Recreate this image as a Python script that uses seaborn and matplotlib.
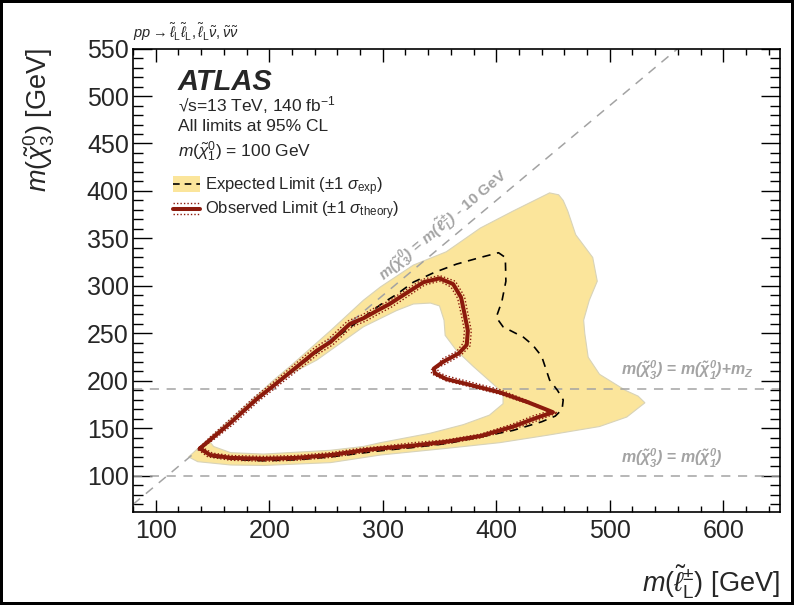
import numpy as np
import matplotlib
matplotlib.use("Agg")
import matplotlib.pyplot as plt
import seaborn as sns
from matplotlib.path import Path
from matplotlib.patches import PathPatch, Rectangle
from matplotlib.lines import Line2D
from matplotlib.legend_handler import HandlerBase
from matplotlib.ticker import MultipleLocator

# ---------------- data ----------------
# Expected +-1 sigma band: outer boundary and inner (hole) boundary
band_out_x = [129, 137, 166, 195, 254, 298, 356, 403, 446, 491, 515, 531, 525, 514, 491, 481, 478, 477,
              482, 489, 485, 470, 463, 459, 455, 447, 415, 386, 356, 327, 298, 283, 254, 219, 204, 170, 140, 129]
band_out_y = [120, 115, 111.5, 111, 114, 122, 129, 135, 143, 152, 162, 177, 184, 190, 207, 225, 250, 264,
              285, 305, 330, 354, 379, 390, 396, 398, 379, 361, 336, 322, 299, 285, 253, 216, 201, 164, 132, 120]
band_in_x = [147, 180, 215, 242, 283, 312, 327, 342, 350, 354, 355, 365, 380, 397, 406, 406, 394, 371,
             342, 298, 283, 254, 195, 166, 151, 147]
band_in_y = [137, 170, 205, 222, 257, 274, 281, 282, 279, 264, 248, 232, 215, 197, 187, 176, 164, 154,
             145, 135, 131, 127, 123, 124.5, 131, 137]

# Expected limit (dashed)
exp_x = [139, 166, 207, 254, 283, 300, 312, 327, 345, 365, 386, 402, 408, 408.5, 405, 400, 406, 424,
         432, 440, 447, 454, 459, 458, 452, 440, 415, 386, 356, 327, 298, 254, 224, 195, 172, 151, 139]
exp_y = [128, 156, 198, 241, 267, 282, 291, 304, 314, 323, 330, 335, 330, 305, 284, 267, 257, 246,
         238, 226, 201, 190, 180, 170, 163, 157, 148, 141, 134, 130, 126.5, 120, 117, 116, 117, 120, 128]

# Observed limit (thick)
obs_x = [139, 150, 166, 189, 207, 242, 254, 271, 283, 295, 306, 315, 336, 350, 362, 369, 372, 375, 374,
         367, 353, 345, 346, 356, 380, 403, 427, 446, 450, 435, 415, 386, 356, 327, 298, 283, 254, 224,
         195, 166, 148, 139]
obs_y = [129, 140, 156, 181, 198, 232, 241, 260, 266, 274, 281, 288, 304, 308, 302, 288, 271, 253, 238,
         229, 220, 213, 208, 202, 195, 188, 178, 169, 167, 161, 152, 142, 136, 132, 129, 127, 122, 119,
         118, 119, 122, 129]

# Observed +-1 sigma theory (dotted)
obs_up_x = [137, 148, 164, 187, 205, 240, 252, 269, 281, 293, 305, 314, 335, 350, 364, 372, 375, 378, 377,
            369, 354, 343, 343, 356, 380, 403, 428, 448, 454, 437, 416, 386, 356, 327, 298, 283, 254, 224,
            195, 166, 146, 137]
obs_up_y = [128, 141, 158, 183, 200, 235, 244, 263, 269, 277, 284, 291, 307, 311, 305, 289, 271, 253, 237,
            227, 217, 212, 207.5, 200, 193, 186, 176, 168, 166.5, 158.5, 149.5, 140, 134, 130, 127, 124.5,
            119.5, 116.5, 115.5, 116.5, 120, 128]
obs_dn_x = [141, 152, 168, 191, 209, 244, 256, 273, 285, 297, 308, 317, 337, 350, 360, 366, 369, 372, 371,
            365, 352, 348, 349, 357, 380, 403, 426, 444, 446, 433, 414, 386, 356, 327, 298, 283, 254, 224,
            195, 166, 150, 141]
obs_dn_y = [130, 139, 154, 179, 196, 229, 238, 257, 263, 271, 278, 285, 301, 305, 299, 287, 271, 253, 240,
            231, 223, 215, 209, 205, 198, 191, 180, 170.5, 168, 163.5, 154.5, 144, 138, 135, 131, 129.5,
            124.5, 121.5, 120.5, 121.5, 124, 130]

# reference lines
mZ_line = 191.2
m1_line = 100
diag_offset = 10
x_ticks = [100, 200, 300, 400, 500, 600]
y_ticks = [100, 150, 200, 250, 300, 350, 400, 450, 500, 550]

# ---------------- style ----------------
sns.set_theme(style="ticks")
plt.rcParams["font.family"] = ["Liberation Sans", "DejaVu Sans"]
plt.rcParams["mathtext.fontset"] = "custom"
plt.rcParams["mathtext.rm"] = "Liberation Sans"
plt.rcParams["mathtext.it"] = "Liberation Sans:italic"
plt.rcParams["mathtext.bf"] = "Liberation Sans:italic:bold"

BAND = "#fbe59b"
OBS = "#8c1a0c"
GREY = "#a3a3a3"

fig = plt.figure(figsize=(7.94, 6.05), dpi=100)
fig.patch.set_facecolor("white")
fig.patch.set_edgecolor("black")
fig.patch.set_linewidth(3)
ax = fig.add_axes([0.1675, 0.1537, 0.8149, 0.7661])
ax.set_facecolor("white")

# band with hole
def signed_area(xs, ys):
    xs = np.asarray(xs, float); ys = np.asarray(ys, float)
    return 0.5 * np.sum(xs * np.roll(ys, -1) - np.roll(xs, -1) * ys)

outer = np.column_stack([band_out_x, band_out_y]).astype(float)
inner = np.column_stack([band_in_x, band_in_y]).astype(float)
if np.sign(signed_area(band_out_x, band_out_y)) == np.sign(signed_area(band_in_x, band_in_y)):
    inner = inner[::-1]
verts = np.concatenate([outer, inner])
codes = ([Path.MOVETO] + [Path.LINETO] * (len(outer) - 2) + [Path.CLOSEPOLY] +
         [Path.MOVETO] + [Path.LINETO] * (len(inner) - 2) + [Path.CLOSEPOLY])
ax.add_patch(PathPatch(Path(verts, codes), facecolor=BAND, edgecolor="#d8d3b8", lw=0.8, zorder=1))

# guide lines
xl = np.array([80, 650])
ax.plot(xl, [mZ_line, mZ_line], color=GREY, lw=1.1, ls=(0, (6, 5)), zorder=2)
ax.plot(xl, [m1_line, m1_line], color=GREY, lw=1.1, ls=(0, (6, 5)), zorder=2)
ax.plot(xl, xl - diag_offset, color=GREY, lw=1.1, ls=(0, (6, 5)), zorder=2)

# limits
sns.lineplot(x=exp_x, y=exp_y, sort=False, estimator=None, ax=ax, color="black", lw=1.2,
             linestyle=(0, (5, 4)), zorder=4)
sns.lineplot(x=obs_up_x, y=obs_up_y, sort=False, estimator=None, ax=ax, color=OBS, lw=1.0,
             linestyle=(0, (1, 1.5)), zorder=5)
sns.lineplot(x=obs_dn_x, y=obs_dn_y, sort=False, estimator=None, ax=ax, color=OBS, lw=1.0,
             linestyle=(0, (1, 1.5)), zorder=5)
sns.lineplot(x=obs_x, y=obs_y, sort=False, estimator=None, ax=ax, color=OBS, lw=2.9, zorder=6)

ax.set_xlim(80, 650)
ax.set_ylim(62, 550)

# ticks
ax.set_xticks(x_ticks)
ax.set_yticks(y_ticks)
ax.xaxis.set_minor_locator(MultipleLocator(20))
ax.yaxis.set_minor_locator(MultipleLocator(10))
ax.tick_params(axis="both", which="both", direction="in", top=True, right=True, color="black")
ax.tick_params(axis="x", which="major", length=9, width=1, labelsize=18, pad=5)
ax.tick_params(axis="x", which="minor", length=4.5, width=1)
ax.tick_params(axis="y", which="major", length=14, width=1, labelsize=18, pad=3)
ax.tick_params(axis="y", which="minor", length=7, width=1)
for s in ax.spines.values():
    s.set_color("black"); s.set_linewidth(1.2)

ax.set_xlabel(r"$m(\tilde{\ell}^{\pm}_{\mathrm{L}})$ [GeV]", fontsize=19.5, ha="right", x=1.0)
ax.set_ylabel(r"$m(\tilde{\chi}^{0}_{3})$ [GeV]", fontsize=19.5, ha="right", y=1.0)
ax.xaxis.set_label_coords(1.0, -0.11)
ax.yaxis.set_label_coords(-0.118, 1.0)

# texts
ax.text(0.0, 1.012, r"$pp \rightarrow \tilde{\ell}_{\mathrm{L}}\tilde{\ell}_{\mathrm{L}}, \tilde{\ell}_{\mathrm{L}}\tilde{\nu}, \tilde{\nu}\tilde{\nu}$",
        transform=ax.transAxes, fontsize=10.5, ha="left", va="bottom")
tx = 0.0696
ax.text(tx, 0.928, "ATLAS", transform=ax.transAxes, fontsize=21, fontweight="bold", fontstyle="italic",
        va="center", ha="left")
ax.text(tx, 0.878, "\u221as=13 TeV, 140 fb$^{-1}$", transform=ax.transAxes, fontsize=12.5, va="center")
ax.text(tx, 0.831, "All limits at 95% CL", transform=ax.transAxes, fontsize=12.5, va="center")
ax.text(tx, 0.777, r"$m(\tilde{\chi}^{0}_{1})$ = 100 GeV", transform=ax.transAxes, fontsize=12.5, va="center")

# guide-line labels
ax.text(353, 364, r"$\mathbf{m(\tilde{\chi}^{0}_{3})}$ = $\mathbf{m(\tilde{\ell}^{\pm}_{L})}$ - 10 GeV",
        color=GREY, fontsize=11, fontweight="bold", rotation=40, rotation_mode="anchor", ha="center",
        va="center", zorder=3)
ax.text(510, 211, r"$\mathbf{m(\tilde{\chi}^{0}_{3})}$ = $\mathbf{m(\tilde{\chi}^{0}_{1})}$+$\mathbf{m_{Z}}$",
        color=GREY, fontsize=11.5, fontweight="bold", ha="left", va="center", zorder=3)
ax.text(510, 118.6, r"$\mathbf{m(\tilde{\chi}^{0}_{3})}$ = $\mathbf{m(\tilde{\chi}^{0}_{1})}$",
        color=GREY, fontsize=11.5, fontweight="bold", ha="left", va="center", zorder=3)

# legend
class ExpHandler(HandlerBase):
    def create_artists(self, legend, orig_handle, xdescent, ydescent, width, height, fontsize, trans):
        r = Rectangle((-xdescent, -ydescent - 0.2 * height), width, 1.4 * height, facecolor=BAND,
                      edgecolor="none", transform=trans)
        y = height / 2 - ydescent
        l = Line2D([-xdescent, -xdescent + width], [y, y], color="black", lw=1.2, ls=(0, (4, 3)),
                   transform=trans)
        return [r, l]

class ObsHandler(HandlerBase):
    def create_artists(self, legend, orig_handle, xdescent, ydescent, width, height, fontsize, trans):
        y = height / 2 - ydescent
        out = []
        for dy, lw, ls in [(0.45 * height, 1.0, (0, (1, 1.5))), (-0.45 * height, 1.0, (0, (1, 1.5))),
                           (0, 2.9, "-")]:
            out.append(Line2D([-xdescent, -xdescent + width], [y + dy, y + dy], color=OBS, lw=lw, ls=ls,
                              transform=trans))
        return out

h_exp = Line2D([], [])
h_obs = Line2D([], [])
ax.legend([h_exp, h_obs],
          [r"Expected Limit ($\pm$1 $\sigma_{\mathrm{exp}}$)", r"Observed Limit ($\pm$1 $\sigma_{\mathrm{theory}}$)"],
          handler_map={h_exp: ExpHandler(), h_obs: ObsHandler()},
          loc="upper left", bbox_to_anchor=(0.062, 0.727), frameon=False, fontsize=12,
          handlelength=1.6, handletextpad=0.3, labelspacing=0.12, borderaxespad=0, borderpad=0)

fig.savefig("out.png", dpi=100, facecolor=fig.get_facecolor(), edgecolor=fig.get_edgecolor())
